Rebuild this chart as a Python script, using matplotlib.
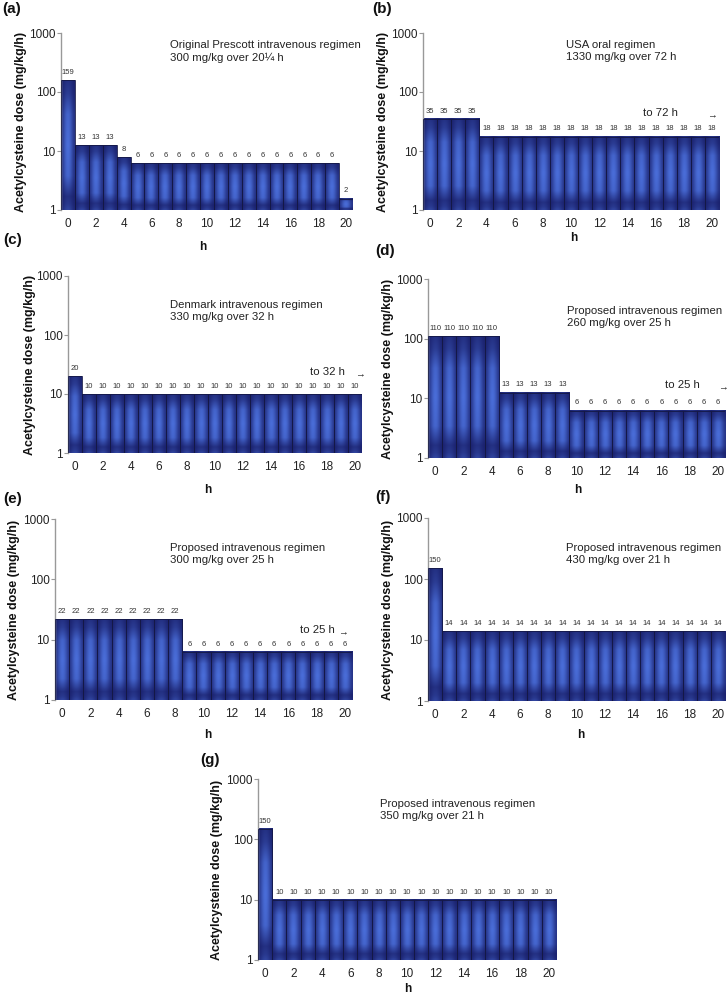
import matplotlib
matplotlib.use("Agg")
import matplotlib.pyplot as plt
import numpy as np

plt.rcParams['font.family'] = ['Liberation Sans', 'DejaVu Sans']

W, H = 727, 999

hours = list(range(21))
ytick_vals = [1, 10, 100, 1000]
xtick_vals = [0, 2, 4, 6, 8, 10, 12, 14, 16, 18, 20]

dose_a = [159.4, 12.5, 12.5, 12.5, 7.8, 6.25, 6.25, 6.25, 6.25, 6.25, 6.25,
          6.25, 6.25, 6.25, 6.25, 6.25, 6.25, 6.25, 6.25, 6.25, 1.56]
dose_b = [35, 35, 35, 35, 17.5, 17.5, 17.5, 17.5, 17.5, 17.5, 17.5,
          17.5, 17.5, 17.5, 17.5, 17.5, 17.5, 17.5, 17.5, 17.5, 17.5]
dose_c = [20, 10, 10, 10, 10, 10, 10, 10, 10, 10, 10,
          10, 10, 10, 10, 10, 10, 10, 10, 10, 10]
dose_d = [110, 110, 110, 110, 110, 12.5, 12.5, 12.5, 12.5, 12.5, 6.25,
          6.25, 6.25, 6.25, 6.25, 6.25, 6.25, 6.25, 6.25, 6.25, 6.25]
dose_e = [22, 22, 22, 22, 22, 22, 22, 22, 22, 6.25, 6.25,
          6.25, 6.25, 6.25, 6.25, 6.25, 6.25, 6.25, 6.25, 6.25, 6.25]
dose_f = [150, 14, 14, 14, 14, 14, 14, 14, 14, 14, 14,
          14, 14, 14, 14, 14, 14, 14, 14, 14, 14]
dose_g = [150, 10, 10, 10, 10, 10, 10, 10, 10, 10, 10,
          10, 10, 10, 10, 10, 10, 10, 10, 10, 10]

regimens = [
    "Original Prescott intravenous regimen\n300 mg/kg over 20\u00bc h",
    "USA oral regimen\n1330 mg/kg over 72 h",
    "Denmark intravenous regimen\n330 mg/kg over 32 h",
    "Proposed intravenous regimen\n260 mg/kg over 25 h",
    "Proposed intravenous regimen\n300 mg/kg over 25 h",
    "Proposed intravenous regimen\n430 mg/kg over 21 h",
    "Proposed intravenous regimen\n350 mg/kg over 21 h",
]
letters = ["(a)", "(b)", "(c)", "(d)", "(e)", "(f)", "(g)"]
extends = [None, "to 72 h", "to 32 h", "to 25 h", "to 25 h", None, None]

# panel layout in pixels: left, top, right, bottom of the axes
boxes = [(61, 33, 353, 210), (423, 33, 719, 210), (68, 276, 362, 453),
         (428, 279, 725, 458), (55, 519, 352, 700), (428, 518, 725, 701),
         (258, 779, 556, 960)]
text_xy = [(170, 40), (566, 40), (170, 300), (567, 306), (170, 543), (566, 543), (380, 799)]
letter_xy = [(2, 9), (372, 9), (3, 240), (375, 251), (3, 499), (375, 497), (200, 760)]
hlab_xy = [(203, 247), (574, 238), (208, 490), (578, 490), (208, 735), (581, 735), (408, 989)]
ylab_x = [21, 383, 30, 388, 14, 388, 217]
ext_xy = [None, (643, 113, 712), (310, 372, 360), (665, 385, 723), (300, 630, 343), None, None]

dark = np.array([0.09, 0.11, 0.40])
light = np.array([0.29, 0.43, 0.85])


def bar_img(ny=100, nx=30):
    t = np.linspace(0, 1, ny)[:, None]  # 0 bottom -> 1 top
    s = np.linspace(0, 1, nx)[None, :]
    v = np.interp(t, [0, 0.04, 0.1, 0.26, 0.5, 0.74, 0.9, 1.0],
                  [0.5, 0.35, 0.25, 0.9, 1.0, 0.88, 0.4, 0.25])
    h = 0.5 - 0.5 * np.cos(2 * np.pi * s)
    b = v * (0.3 + 0.7 * h ** 0.8)
    img = dark[None, None, :] + b[..., None] * (light - dark)[None, None, :]
    return img[::-1]


fig = plt.figure(figsize=(W / 100, H / 100), dpi=100)
doses = [dose_a, dose_b, dose_c, dose_d, dose_e, dose_f, dose_g]
img = bar_img()

for k, dose in enumerate(doses):
    l, t, r, b = boxes[k]
    ax = fig.add_axes([l / W, 1 - b / H, (r - l) / W, (b - t) / H])
    ax.set_autoscale_on(False)
    ax.set_yscale('log')
    ax.set_xlim(-0.5, 20.5)
    ax.set_ylim(1, 1000)
    for i, v in zip(hours, dose):
        x0 = i / 21
        x1 = (i + 1) / 21
        y1 = np.log10(v) / 3
        ax.imshow(img, extent=(x0, x1, 0, y1), transform=ax.transAxes,
                  aspect='auto', interpolation='bilinear', zorder=2)
        ax.annotate(str(int(v + 0.5)), (i, v), xytext=(0, 3), textcoords='offset points',
                    ha='center', va='bottom', fontsize=5.5, color='#333333')
    ax.bar(hours, [v - 1 for v in dose], width=1.0, bottom=1, facecolor='none',
           edgecolor='#141846', linewidth=0.6, zorder=3)
    ax.set_xlim(-0.5, 20.5)
    ax.set_ylim(1, 1000)
    for side in ['top', 'right', 'bottom']:
        ax.spines[side].set_visible(False)
    ax.spines['left'].set_color('#999999')
    ax.spines['left'].set_linewidth(1.0)
    ax.set_yticks(ytick_vals)
    ax.set_yticklabels([str(y) for y in ytick_vals])
    ax.minorticks_off()
    ax.set_xticks(xtick_vals)
    ax.set_xticklabels([str(x) for x in xtick_vals])
    ax.tick_params(axis='x', length=0, pad=6, labelsize=8.5, labelcolor='#222222')
    ax.tick_params(axis='y', length=3, width=0.8, color='#999999', pad=1,
                   labelsize=8.5, labelcolor='#222222')
    ax.patch.set_visible(False)

    tx, ty = text_xy[k]
    fig.text(tx / W, 1 - ty / H, regimens[k], ha='left', va='top', fontsize=8.2,
             color='#222222', linespacing=1.3)
    lx, ly = letter_xy[k]
    fig.text(lx / W, 1 - ly / H, letters[k], ha='left', va='center', fontsize=11,
             fontweight='bold', color='#111111')
    hx, hy = hlab_xy[k]
    fig.text(hx / W, 1 - hy / H, 'h', ha='center', va='center', fontsize=8.5,
             fontweight='bold', color='#111111')
    fig.text(ylab_x[k] / W, 1 - ((t + b) / 2) / H, 'Acetylcysteine dose (mg/kg/h)',
             rotation=90, ha='center', va='center', fontsize=9, fontweight='bold',
             color='#111111')
    if extends[k]:
        ex, ey, ax_x = ext_xy[k]
        fig.text(ex / W, 1 - ey / H, extends[k], ha='left', va='center', fontsize=8.2,
                 color='#222222')
        fig.text(ax_x / W, 1 - (ey + 2) / H, '\u2192', ha='center', va='center',
                 fontsize=7, color='#222222')

fig.savefig('out.png', dpi=100, facecolor='white')
